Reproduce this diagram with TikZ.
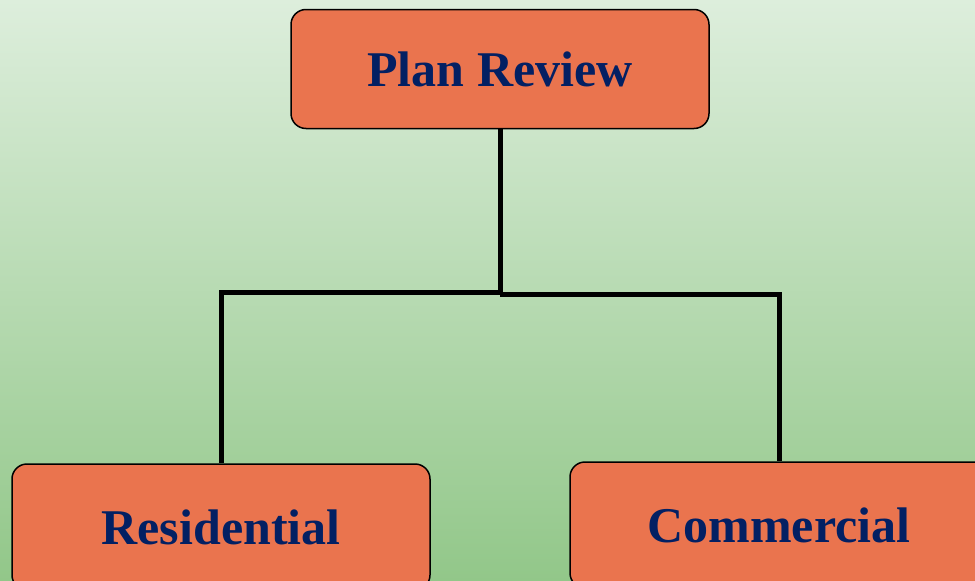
\documentclass[tikz,border=0pt]{standalone}
\usepackage{fontspec}
\setmainfont{Liberation Serif}
\definecolor{bgtop}{HTML}{DDEEDC}
\definecolor{bgbot}{HTML}{92C789}
\definecolor{boxfill}{HTML}{EA744E}
\definecolor{navytext}{HTML}{032063}
\tikzset{
  orgbox/.style={draw=black, line width=1.5pt, fill=boxfill, rounded corners=15pt,
    minimum width=418pt, minimum height=119pt, inner sep=0pt,
    text=navytext, font=\fontsize{50}{60}\selectfont\bfseries},
  lowbox/.style={orgbox, minimum height=126pt},
  linkline/.style={draw=black, line width=5pt}
}
\begin{document}
\begin{tikzpicture}[x=1pt,y=-1pt]
\useasboundingbox (0,0) rectangle (975,581);
\clip (0,0) rectangle (975,581);
\shade[top color=bgtop, bottom color=bgbot] (0,0) rectangle (975,581);
\node[orgbox] (top) at (500,69) {Plan Review};
\node[lowbox] (res) at (221,527) {Residential};
\node[lowbox] (com) at (779,525) {Commercial};
\coordinate (jl) at (500,292);
\coordinate (jr) at (500,294);
\draw[linkline] (top.south) -- (jl) -| (res.north);
\draw[linkline] (jr) -| (com.north);
\end{tikzpicture}
\end{document}
